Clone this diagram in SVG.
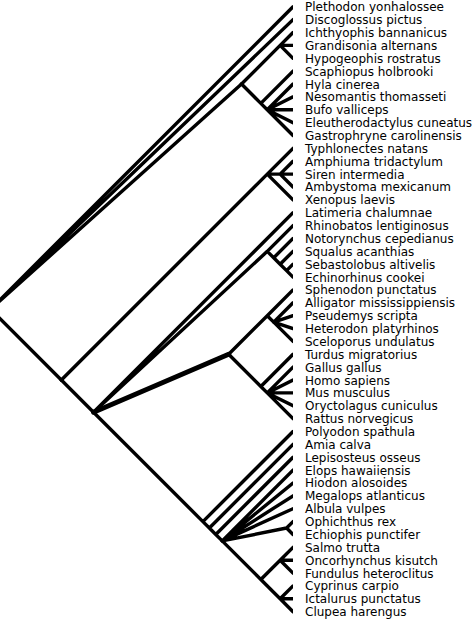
<svg xmlns="http://www.w3.org/2000/svg" width="475" height="621" viewBox="0 0 475 621">
<style>
.e{fill:none;stroke:#000;stroke-width:3.4;stroke-linecap:round;stroke-linejoin:round}
.thick{stroke-width:5}
text{font-family:"DejaVu Sans","Liberation Sans",sans-serif;font-size:12px;fill:#000}
</style>
<defs><clipPath id="c"><rect x="-20" y="-5" width="313" height="630"/></clipPath></defs>
<rect width="475" height="621" fill="#fff"/>
<g id="connectors" class="e" clip-path="url(#c)">
<path d="M-9.45 309.25L293 6.8M-9.45 309.25L293 19.67M-9.45 309.25L241.52 84.02M-9.45 309.25L61.34 380.03"/>
<path d="M241.52 84.02L280.13 45.41M280.13 45.41L293 32.54M280.13 45.41L293 45.41M280.13 45.41L293 58.28"/>
<path d="M241.52 84.02L260.83 103.33L293 71.15M260.83 103.33L267.26 109.76M267.26 109.76L293 84.02M267.26 109.76L293 96.89M267.26 109.76L293 109.76M267.26 109.76L293 122.63M267.26 109.76L293 135.5"/>
<path d="M61.34 380.03L267.26 174.11L293 148.37M267.26 174.11L280.13 174.11M280.13 174.11L293 161.24M280.13 174.11L293 174.11M280.13 174.11L293 186.98M267.26 174.11L293 199.85"/>
<path d="M61.34 380.03L93.52 412.21L293 212.72M93.52 412.21L267.26 251.33L293 225.59M267.26 251.33L273.7 257.77L293 238.46M273.7 257.77L280.13 264.2L293 251.33M280.13 264.2L286.57 270.64L293 264.2M286.57 270.64L293 277.07"/>
<path class="thick" d="M93.52 412.21L228.65 354.29"/>
<path d="M228.65 354.29L267.26 315.68L293 289.94M267.26 315.68L273.7 322.12M273.7 322.12L293 302.81M273.7 322.12L293 315.68M273.7 322.12L293 328.55M273.7 322.12L293 341.42"/>
<path d="M228.65 354.29L260.83 386.47L293 354.29M260.83 386.47L267.26 392.9M267.26 392.9L293 367.16M267.26 392.9L293 380.03M267.26 392.9L293 392.9M267.26 392.9L293 405.77M267.26 392.9L293 418.64"/>
<path d="M93.52 412.21L202.91 521.6L293 431.51M202.91 521.6L209.35 528.04L293 444.38M209.35 528.04L215.78 534.47L293 457.25M215.78 534.47L222.22 540.91"/>
<path d="M222.22 540.91L293 470.12M222.22 540.91L293 482.99M222.22 540.91L293 495.86M222.22 540.91L293 508.73M222.22 540.91L286.57 528.04L293 521.6M286.57 528.04L293 534.47"/>
<path d="M222.22 540.91L260.83 579.52L280.13 560.21L293 547.34M280.13 560.21L293 560.21M280.13 560.21L293 573.08M260.83 579.52L280.13 598.82L293 585.95M280.13 598.82L293 598.82M280.13 598.82L293 611.69"/>
</g>
<g id="labels">
<g id="t0"><text x="305" y="11.3">Plethodon yonhalossee</text></g>
<g id="t1"><text x="305" y="24.17">Discoglossus pictus</text></g>
<g id="t2"><text x="305" y="37.04">Ichthyophis bannanicus</text></g>
<g id="t3"><text x="305" y="49.91">Grandisonia alternans</text></g>
<g id="t4"><text x="305" y="62.78">Hypogeophis rostratus</text></g>
<g id="t5"><text x="305" y="75.65">Scaphiopus holbrooki</text></g>
<g id="t6"><text x="305" y="88.52">Hyla cinerea</text></g>
<g id="t7"><text x="305" y="101.39">Nesomantis thomasseti</text></g>
<g id="t8"><text x="305" y="114.26">Bufo valliceps</text></g>
<g id="t9"><text x="305" y="127.13">Eleutherodactylus cuneatus</text></g>
<g id="t10"><text x="305" y="140">Gastrophryne carolinensis</text></g>
<g id="t11"><text x="305" y="152.87">Typhlonectes natans</text></g>
<g id="t12"><text x="305" y="165.74">Amphiuma tridactylum</text></g>
<g id="t13"><text x="305" y="178.61">Siren intermedia</text></g>
<g id="t14"><text x="305" y="191.48">Ambystoma mexicanum</text></g>
<g id="t15"><text x="305" y="204.35">Xenopus laevis</text></g>
<g id="t16"><text x="305" y="217.22">Latimeria chalumnae</text></g>
<g id="t17"><text x="305" y="230.09">Rhinobatos lentiginosus</text></g>
<g id="t18"><text x="305" y="242.96">Notorynchus cepedianus</text></g>
<g id="t19"><text x="305" y="255.83">Squalus acanthias</text></g>
<g id="t20"><text x="305" y="268.7">Sebastolobus altivelis</text></g>
<g id="t21"><text x="305" y="281.57">Echinorhinus cookei</text></g>
<g id="t22"><text x="305" y="294.44">Sphenodon punctatus</text></g>
<g id="t23"><text x="305" y="307.31">Alligator mississippiensis</text></g>
<g id="t24"><text x="305" y="320.18">Pseudemys scripta</text></g>
<g id="t25"><text x="305" y="333.05">Heterodon platyrhinos</text></g>
<g id="t26"><text x="305" y="345.92">Sceloporus undulatus</text></g>
<g id="t27"><text x="305" y="358.79">Turdus migratorius</text></g>
<g id="t28"><text x="305" y="371.66">Gallus gallus</text></g>
<g id="t29"><text x="305" y="384.53">Homo sapiens</text></g>
<g id="t30"><text x="305" y="397.4">Mus musculus</text></g>
<g id="t31"><text x="305" y="410.27">Oryctolagus cuniculus</text></g>
<g id="t32"><text x="305" y="423.14">Rattus norvegicus</text></g>
<g id="t33"><text x="305" y="436.01">Polyodon spathula</text></g>
<g id="t34"><text x="305" y="448.88">Amia calva</text></g>
<g id="t35"><text x="305" y="461.75">Lepisosteus osseus</text></g>
<g id="t36"><text x="305" y="474.62">Elops hawaiiensis</text></g>
<g id="t37"><text x="305" y="487.49">Hiodon alosoides</text></g>
<g id="t38"><text x="305" y="500.36">Megalops atlanticus</text></g>
<g id="t39"><text x="305" y="513.23">Albula vulpes</text></g>
<g id="t40"><text x="305" y="526.1">Ophichthus rex</text></g>
<g id="t41"><text x="305" y="538.97">Echiophis punctifer</text></g>
<g id="t42"><text x="305" y="551.84">Salmo trutta</text></g>
<g id="t43"><text x="305" y="564.71">Oncorhynchus kisutch</text></g>
<g id="t44"><text x="305" y="577.58">Fundulus heteroclitus</text></g>
<g id="t45"><text x="305" y="590.45">Cyprinus carpio</text></g>
<g id="t46"><text x="305" y="603.32">Ictalurus punctatus</text></g>
<g id="t47"><text x="305" y="616.19">Clupea harengus</text></g>
</g>
</svg>
